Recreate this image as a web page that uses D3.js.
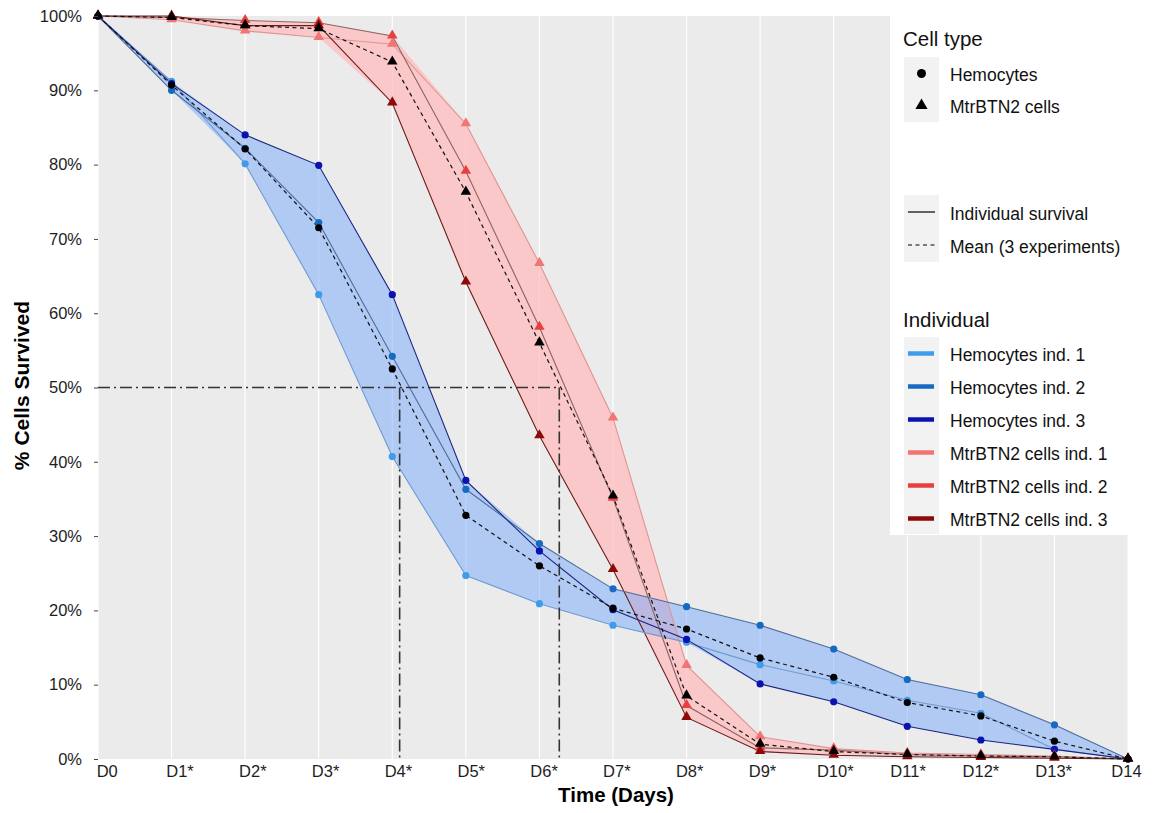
<!DOCTYPE html>
<html><head><meta charset="utf-8">
<script src="https://cdn.jsdelivr.net/npm/d3@7"></script>
<style>
body{margin:0;background:#fff}
svg{display:block}
text{font-family:"Liberation Sans",Arial,Helvetica,sans-serif}
</style>
</head><body>
<svg id="chart" width="1157" height="813"></svg>
<script>
// ---------- data ----------
const days = ["D0","D1*","D2*","D3*","D4*","D5*","D6*","D7*","D8*","D9*","D10*","D11*","D12*","D13*","D14"];
const dayIndex = [0,1,2,3,4,5,6,7,8,9,10,11,12,13,14];

const hemocytesInd1 = [100, 91.2, 80.1, 62.5, 40.7, 24.7, 20.9, 18.0, 15.7, 12.7, 10.5, 7.9, 6.15, 1.3, 0];
const hemocytesInd2 = [100, 90.0, 82.2, 72.2, 54.2, 36.3, 29.0, 22.9, 20.5, 18.0, 14.8, 10.7, 8.65, 4.6, 0];
const hemocytesInd3 = [100, 90.9, 84.0, 79.9, 62.5, 37.5, 28.0, 20.1, 16.1, 10.1, 7.7, 4.4, 2.56, 1.3, 0];
const hemocytesMean = [100, 90.7, 82.1, 71.5, 52.5, 32.8, 26.0, 20.3, 17.5, 13.6, 11.0, 7.6, 5.8, 2.4, 0];

const mtrInd1 = [100, 99.5, 98.0, 97.1, 96.2, 85.5, 66.7, 45.9, 12.6, 3.0, 1.4, 0.8, 0.6, 0.4, 0];
const mtrInd2 = [100, 99.8, 99.4, 99.1, 97.3, 79.1, 58.1, 35.1, 7.2, 1.5, 1.2, 0.6, 0.4, 0.3, 0];
const mtrInd3 = [100, 100, 98.7, 98.7, 88.3, 64.2, 43.5, 25.5, 5.6, 1.0, 0.5, 0.3, 0.2, 0.1, 0];
const mtrMean = [100, 99.8, 98.7, 98.3, 93.8, 76.3, 56.0, 35.4, 8.5, 2.0, 1.0, 0.6, 0.4, 0.3, 0];

const lt50Days = [4.1, 6.27];     // day at which mean survival crosses 50%
const lt50Level = 50;

const yTicks = [0,10,20,30,40,50,60,70,80,90,100];

const cellTypeLabels = ["Hemocytes","MtrBTN2 cells"];
const lineTypeLabels = ["Individual survival","Mean (3 experiments)"];
const individualLabels = ["Hemocytes ind. 1","Hemocytes ind. 2","Hemocytes ind. 3",
                          "MtrBTN2 cells ind. 1","MtrBTN2 cells ind. 2","MtrBTN2 cells ind. 3"];

// ---------- styles ----------
const pointColors = ["#3f9cea","#176ac2","#0a12b0","#f27474","#e6403f","#8c0a0a"];
const lineColors  = ["#6f9bd2","#4f6d9c","#1b237f","#e09494","#8f6464","#6a1c1c"];
const legendColors= ["#3f9cea","#176ac2","#0a12b0","#f27474","#e6403f","#8c0a0a"];

// ---------- layout ----------
const svg = d3.select("#chart");
const panel = {left:98, right:1128, top:16, bottom:759};
const x = d3.scaleLinear().domain([0,14]).range([panel.left, panel.right]);
const y = d3.scaleLinear().domain([0,100]).range([panel.bottom, panel.top]);
const xLab = d3.scalePoint().domain(days).range([x(0)+8.7, x(14)-2]);

svg.append("rect").attr("width",1157).attr("height",813).attr("fill","#fff");
svg.append("rect")
  .attr("x",panel.left).attr("y",panel.top)
  .attr("width",panel.right-panel.left).attr("height",panel.bottom-panel.top)
  .attr("fill","#ebebeb");

// vertical grid lines
svg.append("g").selectAll("line").data(dayIndex).join("line")
  .attr("x1",d=>x(d)).attr("x2",d=>x(d))
  .attr("y1",panel.top).attr("y2",panel.bottom)
  .attr("stroke","#fff").attr("stroke-width",1.1);

const groups = [
  {inds:[mtrInd1,mtrInd2,mtrInd3], mean:mtrMean, fill:"#ffbcbc", op:0.75, shape:"tri", ci:3},
  {inds:[hemocytesInd1,hemocytesInd2,hemocytesInd3], mean:hemocytesMean, fill:"#6fa6ff", op:0.47, shape:"circ", ci:0}
];

// ribbons
const area = d3.area()
  .x(d=>x(d.day)).y0(d=>y(d.lo)).y1(d=>y(d.hi));
groups.forEach(g=>{
  const rows = dayIndex.map(i=>({day:i, lo:d3.min(g.inds,a=>a[i]), hi:d3.max(g.inds,a=>a[i])}));
  svg.append("path").datum(rows).attr("d",area)
    .attr("fill",g.fill).attr("fill-opacity",g.op);
});

const line = d3.line().x(d=>x(d.day)).y(d=>y(d.v));

// individual lines
groups.forEach(g=>{
  g.inds.forEach((arr,k)=>{
    svg.append("path").datum(dayIndex.map(i=>({day:i,v:arr[i]})))
      .attr("d",line).attr("fill","none")
      .attr("stroke",lineColors[g.ci+k]).attr("stroke-width",1.1);
  });
});
// mean lines
groups.forEach(g=>{
  svg.append("path").datum(dayIndex.map(i=>({day:i,v:g.mean[i]})))
    .attr("d",line).attr("fill","none")
    .attr("stroke","#111").attr("stroke-width",1.2).attr("stroke-dasharray","4,3.5");
});

// LT50 dash-dot reference lines
const ref = svg.append("g").attr("stroke","#333").attr("stroke-width",1.6)
  .attr("stroke-dasharray","12,4,2,4").attr("fill","none");
ref.append("line")
  .attr("x1",x(0)).attr("x2",x(d3.max(lt50Days)))
  .attr("y1",y(lt50Level)).attr("y2",y(lt50Level));
ref.selectAll("line.v").data(lt50Days).join("line").attr("class","v")
  .attr("x1",d=>x(d)).attr("x2",d=>x(d))
  .attr("y1",y(lt50Level)).attr("y2",y(0));

// points
const tri = d3.symbol(d3.symbolTriangle).size(48);
function drawPoints(arr, shape, color){
  const pts = dayIndex.map(i=>({day:i,v:arr[i]}));
  if(shape==="circ"){
    svg.append("g").selectAll("circle").data(pts).join("circle")
      .attr("cx",d=>x(d.day)).attr("cy",d=>y(d.v)).attr("r",3.6).attr("fill",color);
  } else {
    svg.append("g").selectAll("path").data(pts).join("path")
      .attr("d",tri()).attr("transform",d=>`translate(${x(d.day)},${y(d.v)-0.5})`).attr("fill",color);
  }
}
[groups[1],groups[0]].forEach(g=>{
  g.inds.forEach((arr,k)=>drawPoints(arr,g.shape,pointColors[g.ci+k]));
});
[groups[1],groups[0]].forEach(g=>drawPoints(g.mean,g.shape,"#000"));

// axes
const yAxis = svg.append("g").attr("transform",`translate(${panel.left},0)`)
  .call(d3.axisLeft(y).tickValues(yTicks).tickFormat(d=>d+"%").tickSize(4).tickPadding(12));
yAxis.select(".domain").remove();
yAxis.selectAll(".tick line").attr("stroke","#444");
yAxis.selectAll(".tick text").attr("font-size",16.5).attr("fill","#1e1e1e")
  .attr("font-family","'Liberation Sans',Arial,sans-serif");

const xAxis = svg.append("g").attr("transform",`translate(0,${panel.bottom})`)
  .call(d3.axisBottom(xLab).tickSize(0).tickPadding(6));
xAxis.select(".domain").remove();
xAxis.selectAll(".tick text").attr("font-size",16.5).attr("fill","#1e1e1e")
  .attr("font-family","'Liberation Sans',Arial,sans-serif");

svg.append("text").attr("x",616).attr("y",802).attr("text-anchor","middle")
  .attr("font-size",20.5).attr("font-weight","bold").attr("fill","#000").text("Time (Days)");
svg.append("text").attr("transform","translate(29,385.5) rotate(-90)").attr("text-anchor","middle")
  .attr("font-size",21).attr("font-weight","bold").attr("fill","#000").text("% Cells Survived");

// legend
const lg = svg.append("g");
lg.append("rect").attr("x",890).attr("y",15).attr("width",240).attr("height",520).attr("fill","#fff");
const keyX = 904, keyW = 35, txtX = 950;

lg.append("text").attr("x",903).attr("y",46).attr("font-size",20.5).attr("fill","#111").text("Cell type");
lg.append("rect").attr("x",keyX).attr("y",57).attr("width",keyW).attr("height",65).attr("fill","#f2f2f2");
const ctY = [73.5,106];
lg.append("circle").attr("cx",keyX+keyW/2).attr("cy",ctY[0]).attr("r",4.5).attr("fill","#000");
lg.append("path").attr("d",d3.symbol(d3.symbolTriangle).size(64)()).attr("transform",`translate(${keyX+keyW/2},${ctY[1]-0.5})`).attr("fill","#000");
lg.selectAll("text.ct").data(cellTypeLabels).join("text").attr("class","ct")
  .attr("x",txtX).attr("y",(d,i)=>ctY[i]+1).attr("dominant-baseline","central")
  .attr("font-size",17.5).attr("fill","#111").text(d=>d);

lg.append("rect").attr("x",keyX).attr("y",195).attr("width",keyW).attr("height",67).attr("fill","#f2f2f2");
const ltY = [212,245];
lg.append("line").attr("x1",908).attr("x2",935).attr("y1",ltY[0]).attr("y2",ltY[0]).attr("stroke","#000").attr("stroke-width",1.2);
lg.append("line").attr("x1",908).attr("x2",935).attr("y1",ltY[1]).attr("y2",ltY[1]).attr("stroke","#000").attr("stroke-width",1.2).attr("stroke-dasharray","4,3.5");
lg.selectAll("text.lt").data(lineTypeLabels).join("text").attr("class","lt")
  .attr("x",txtX).attr("y",(d,i)=>ltY[i]+1.5).attr("dominant-baseline","central")
  .attr("font-size",17.5).attr("fill","#111").text(d=>d);

lg.append("text").attr("x",903).attr("y",327).attr("font-size",20.5).attr("fill","#111").text("Individual");
lg.append("rect").attr("x",keyX).attr("y",337).attr("width",keyW).attr("height",197).attr("fill","#f2f2f2");
lg.selectAll("line.ind").data(individualLabels).join("line").attr("class","ind")
  .attr("x1",908).attr("x2",934).attr("y1",(d,i)=>353.5+i*33).attr("y2",(d,i)=>353.5+i*33)
  .attr("stroke",(d,i)=>legendColors[i]).attr("stroke-width",4.5);
lg.selectAll("text.ind").data(individualLabels).join("text").attr("class","ind")
  .attr("x",txtX).attr("y",(d,i)=>354.5+i*33).attr("dominant-baseline","central")
  .attr("font-size",17.5).attr("fill","#111").text(d=>d);
</script>
</body></html>
